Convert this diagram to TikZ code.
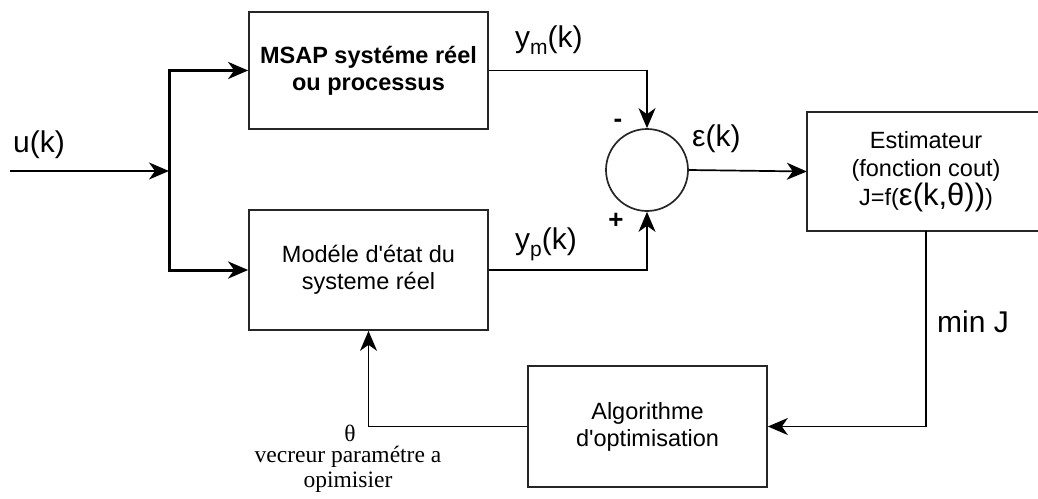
\documentclass[tikz,border=0pt]{standalone}
\usepackage{fontspec}
\setmainfont{Liberation Sans}
\newfontfamily\notefont{Liberation Serif}
\usetikzlibrary{arrows.meta}
\begin{document}
\begin{tikzpicture}[x=1pt, y=-1pt,
  boxline/.style={draw=black!85, line width=1.7pt},
  blockbox/.style={boxline, minimum width=239pt, align=center, inner sep=0pt, font=\fontsize{23.5}{27}\selectfont},
  sig/.style={font=\fontsize{30}{34}\selectfont, anchor=base west, inner sep=0pt},
  sign/.style={font=\fontsize{26}{26}\selectfont\bfseries, inner sep=0pt},
  link/.style={line width=1.7pt, -{Stealth[length=20pt,width=17pt,inset=6pt]}},
  fork/.style={link, line width=3pt}]
\useasboundingbox (0,0) rectangle (1038,498);
% blocks
\node[blockbox, minimum height=117pt, font=\fontsize{23.5}{27}\selectfont\bfseries] (msap) at (368.5,70.5) {MSAP systéme réel\\ou processus};
\node[blockbox, minimum height=120pt] (model) at (368.5,270) {Modéle d\textquotesingle état du\\systeme réel};
\node[circle, boxline, minimum size=82pt, inner sep=0pt] (sum) at (647,170) {};
\node[minimum width=238pt, minimum height=119pt, align=center, inner sep=0pt, font=\fontsize{23.5}{28.5}\selectfont] (est) at (926,171.5) {Estimateur\\(fonction cout)\\J=f({\fontsize{31}{28.5}\selectfont ε(k,θ))})};
% estimator box runs past the right border
\draw[boxline] ([xshift=20pt]est.north east) -- (est.north west) -- (est.south west) -- ([xshift=20pt]est.south east);
\node[blockbox, minimum height=121pt] (algo) at (647.5,426.5) {Algorithme\\d\textquotesingle optimisation};
% input and fork
\coordinate (in) at (10,171);
\coordinate (split) at (169,171);
\draw[link] (in) -- (split);
\draw[fork] (split) |- (msap.west);
\draw[fork] (split) |- (model.west);
% comparison and estimation
\draw[link] (msap.east) -| (sum.north);
\draw[link] (model.east) -| (sum.south);
\draw[link] (sum.east) -- (est.west);
% feedback loop
\draw[link] (est.south) |- (algo.east);
\draw[link] (algo.west) -| (model.south);
% labels
\node[sig] (uk) at (13,152) {u(k)};
\node[sig] (ym) at (515,47) {y\raisebox{-7pt}{\fontsize{21}{21}\selectfont m}(k)};
\node[sig] (yp) at (515,249) {y\raisebox{-7pt}{\fontsize{21}{21}\selectfont p}(k)};
\node[sig] (ek) at (692,146) {ε(k)};
\node[sig] (minj) at (937,332) {min J};
\node[sign] (minus) at (618,123) {-};
\node[sign] (plus) at (616,221) {+};
\node[font=\notefont\fontsize{23.5}{23.5}\selectfont, inner sep=0pt] (theta) at (350,433) {θ};
\node[font=\notefont\fontsize{23.5}{25}\selectfont, align=center, inner sep=0pt, anchor=north] (vec) at (348,446) {vecreur paramétre a\\opimisier};
\end{tikzpicture}
\end{document}
